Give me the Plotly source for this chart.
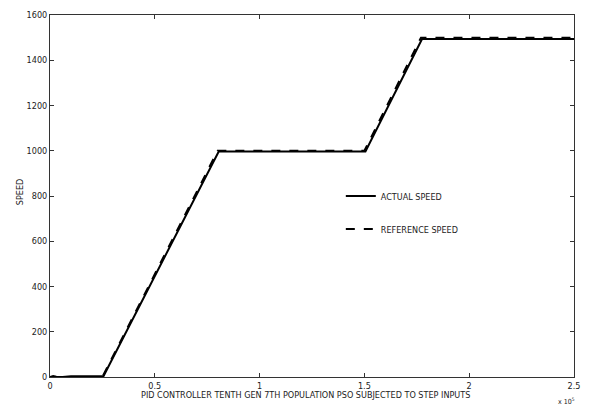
import plotly.graph_objects as go

# Speed profiles (time in samples, speed in rpm)
ref_time = [0, 25000, 80000, 150000, 177000, 250000]
ref_speed = [0, 0, 1000, 1000, 1500, 1500]

act_time = [0, 1500, 3000, 6000, 10000, 25500, 80500, 150500, 177500, 250000]
act_speed = [0, 4, 1, 0, 3, 3, 997, 997, 1494, 1494]

x_tickvals = [0, 50000, 100000, 150000, 200000, 250000]
x_ticktext = ["0", "0.5", "1", "1.5", "2", "2.5"]
y_tickvals = [0, 200, 400, 600, 800, 1000, 1200, 1400, 1600]

FONT = "DejaVu Sans Condensed, Liberation Sans Narrow, Arial Narrow, sans-serif"
FS = 9

fig = go.Figure()
fig.add_trace(go.Scatter(
    x=act_time, y=act_speed, mode="lines", name="ACTUAL SPEED",
    legendgroup="a", line=dict(color="black", width=2),
))
fig.add_trace(go.Scatter(
    x=ref_time, y=ref_speed, mode="lines", name="REFERENCE SPEED",
    legendgroup="b", line=dict(color="black", width=2, dash="dash"),
))

axis_common = dict(
    showgrid=False, zeroline=False, showline=True, linecolor="#333",
    linewidth=1, mirror="ticks", ticks="inside", ticklen=4, tickcolor="#333",
    tickfont=dict(family=FONT, size=FS, color="#222"), automargin=False,
)

fig.update_layout(
    width=589, height=409,
    margin=dict(l=50, r=15, t=15, b=32),
    paper_bgcolor="white", plot_bgcolor="white",
    font=dict(family=FONT, size=FS, color="#222"),
    xaxis=dict(range=[0, 250000], tickvals=x_tickvals, ticktext=x_ticktext, **axis_common),
    yaxis=dict(range=[0, 1600], tickvals=y_tickvals, **axis_common),
    legend=dict(
        x=0.555, y=0.54, xanchor="left", yanchor="top",
        bgcolor="rgba(0,0,0,0)", borderwidth=0,
        font=dict(family=FONT, size=FS), traceorder="grouped", tracegroupgap=14,
        itemwidth=30,
    ),
    showlegend=True,
)

# Axis titles
fig.add_annotation(
    xref="paper", yref="paper", x=0.487, y=-0.05, xanchor="center", yanchor="middle",
    text="PID CONTROLLER TENTH GEN 7TH POPULATION PSO SUBJECTED TO STEP INPUTS",
    showarrow=False, font=dict(family=FONT, size=FS, color="#222"),
)
fig.add_annotation(
    xref="paper", yref="paper", x=-0.057, y=0.511, xanchor="center", yanchor="middle",
    text="SPEED", textangle=-90, showarrow=False,
    font=dict(family=FONT, size=FS, color="#222"),
)

# Exponent label for the x axis
fig.add_annotation(
    xref="paper", yref="paper", x=0.985, y=-0.085, xanchor="center", yanchor="bottom",
    text="x 10<sup>5</sup>", showarrow=False, font=dict(family=FONT, size=7, color="#222"),
)

fig.write_html("out.html")
